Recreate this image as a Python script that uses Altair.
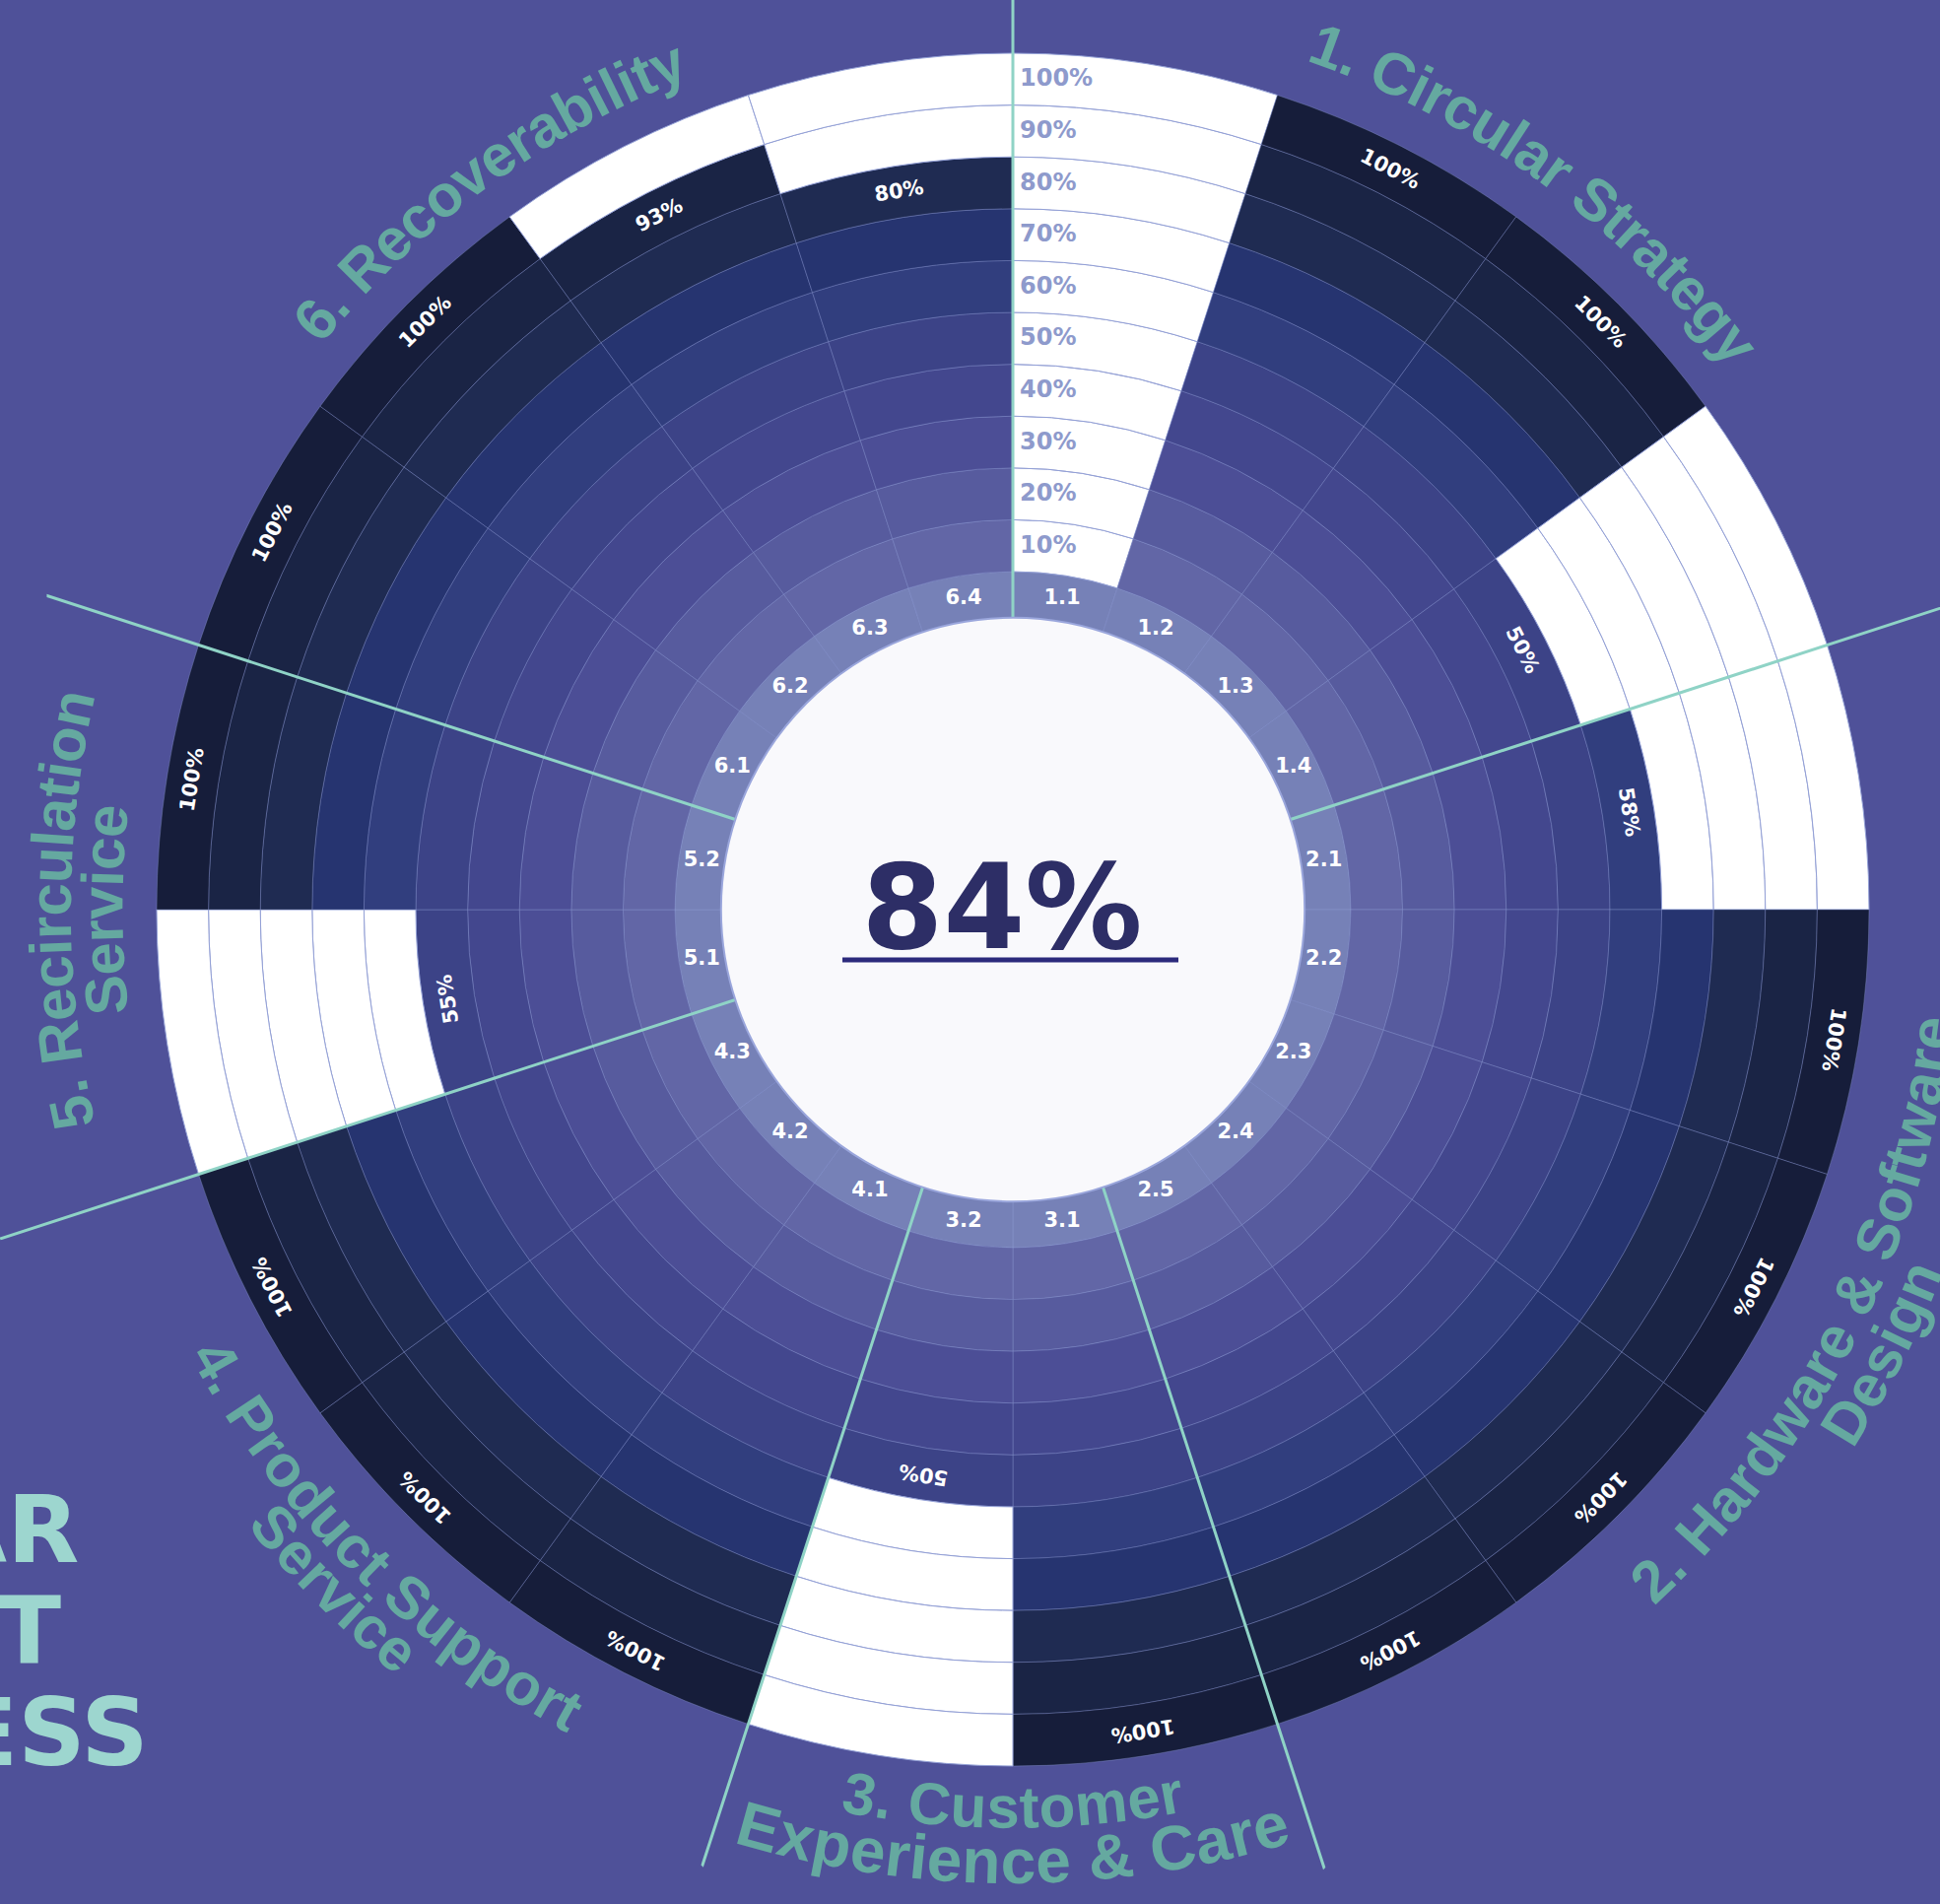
import math
import altair as alt
import pandas as pd

# ---------------- data ----------------
sector_ids = ["1.1", "1.2", "1.3", "1.4",
              "2.1", "2.2", "2.3", "2.4", "2.5",
              "3.1", "3.2",
              "4.1", "4.2", "4.3",
              "5.1", "5.2",
              "6.1", "6.2", "6.3", "6.4"]
sector_values = [0, 100, 100, 50,
                 58, 100, 100, 100, 100,
                 100, 50,
                 100, 100, 100,
                 55, 100,
                 100, 100, 93, 80]
group_titles = [["1. Circular Strategy"],
                ["2. Hardware & Software", "Design"],
                ["3. Customer", "Experience & Care"],
                ["4. Product Support", "Service"],
                ["5. Recirculation", "Service"],
                ["6. Recoverability"]]
group_sizes = [4, 5, 2, 3, 2, 4]
scale_ticks = [10, 20, 30, 40, 50, 60, 70, 80, 90, 100]
corner_words = ["CIRCULAR", "PRODUCT", "READINESS"]

# ---------------- layout / style ----------------
W, H = 1969, 1932
CX, CY = 1028, 923
R_ZERO_PX, R_FULL_PX = 343, 869          # radius of 0 % and 100 %
BAND_IN = -8.9                           # inner edge of the id band (in % units)
LINE_END = [140, 140, 129.0, 128.5, 140, 130.5]   # separator line ends (in % units)
TITLE_R = [[111.5], [114.0, 124.0], [108.5, 119.0], [112.0, 121.0], [120.0, 110.0], [110.5]]
TITLE_FS = [[60], [60, 60], [60, 64], [60, 60], [60, 60], [60]]
BG = "#4f5199"
TEAL = "#8fd3c6"
TITLE_COL = "#65a9a0"
ring_classes = ["band"] + [f"r{k}" for k in range(1, 11)] + ["empty"]
ring_colors = ["#7681b7", "#6266a6", "#575b9e", "#4c4e96", "#43478e", "#3c4387",
               "#313e7e", "#263470", "#1f2b52", "#1a2445", "#161d3a", "#ffffff"]

n = len(sector_ids)
step = 360.0 / n


def n_filled(v):
    return int(math.floor((v + 4) / 10.0))


# cells
cells = []
for i, (sid, v) in enumerate(zip(sector_ids, sector_values)):
    t0, t1 = i * step, (i + 1) * step
    cells.append(dict(sid=sid, t0=t0, t1=t1, r_in=BAND_IN, r_out=0, cls="band", filled="y"))
    nf = n_filled(v)
    for k in range(1, 11):
        f = k <= nf
        cells.append(dict(sid=sid, t0=t0, t1=t1, r_in=(k - 1) * 10, r_out=k * 10,
                          cls=f"r{k}" if f else "empty", filled="y" if f else "n"))
cells_df = pd.DataFrame(cells)

# sector id labels and value labels
ids_df = pd.DataFrame([dict(sid=s, th=(i + 0.5) * step, r=BAND_IN / 2) for i, s in enumerate(sector_ids)])
val_rows = []
for i, (s, v) in enumerate(zip(sector_ids, sector_values)):
    if v > 0:
        th = (i + 0.5) * step
        val_rows.append(dict(sid=s, th=th, r=n_filled(v) * 10 - 5, ang=th % 360, label=f"{v}%"))
vals_df = pd.DataFrame(val_rows)

ticks_df = pd.DataFrame([dict(th=0.0, r=t - 5, label=f"{t}%") for t in scale_ticks])

# separator lines between groups
bounds = []
acc = 0
for g in group_sizes:
    bounds.append(acc * step)
    acc += g
lines_df = pd.DataFrame([dict(t0=b, t1=b + 0.0001, r_in=BAND_IN, r_out=e)
                         for b, e in zip(bounds, LINE_END)])

# curved group titles, one character per row
CW = {' ': 278, '&': 722, '.': 278, '1': 556, '2': 556, '3': 556, '4': 556, '5': 556, '6': 556,
      'A': 722, 'B': 722, 'C': 722, 'D': 722, 'E': 667, 'F': 611, 'G': 778, 'H': 722, 'I': 278,
      'J': 556, 'K': 722, 'L': 611, 'M': 833, 'N': 722, 'O': 778, 'P': 667, 'Q': 778, 'R': 722,
      'S': 667, 'T': 611, 'U': 722, 'V': 667, 'W': 944, 'X': 667, 'Y': 667, 'Z': 611,
      'a': 556, 'b': 611, 'c': 556, 'd': 611, 'e': 556, 'f': 333, 'g': 611, 'h': 611, 'i': 278,
      'j': 278, 'k': 556, 'l': 278, 'm': 889, 'n': 611, 'o': 611, 'p': 611, 'q': 611, 'r': 389,
      's': 556, 't': 333, 'u': 611, 'v': 556, 'w': 778, 'x': 556, 'y': 556, 'z': 500}
chars = []
acc = 0
for gi, (lines, size) in enumerate(zip(group_titles, group_sizes)):
    centre = (acc + size / 2.0) * step
    acc += size
    top = centre <= 90 or centre >= 270
    for line, ru, fs in zip(lines, TITLE_R[gi], TITLE_FS[gi]):
        rpx = R_ZERO_PX + ru / 100.0 * (R_FULL_PX - R_ZERO_PX)
        widths = [CW.get(c, 556) / 1000.0 * fs for c in line]
        total = sum(widths)
        cum = 0.0
        for c, w in zip(line, widths):
            s = cum + w / 2.0 - total / 2.0
            d = math.degrees(s / rpx)
            if top:
                th = centre + d
                ang = th
            else:
                th = centre - d
                ang = th + 180
            cum += w
            if c != ' ':
                chars.append(dict(ch=c, th=th % 360, r=ru, ang=ang % 360, fs=fs))
chars_df = pd.DataFrame(chars)

values_df = pd.DataFrame(dict(sid=sector_ids, value=sector_values))
corner_df = pd.DataFrame([dict(t="\n".join(corner_words))])

# ---------------- scales ----------------
TH = alt.Scale(type="linear", domain=[0, 360], range=[0, 2 * math.pi], nice=False, zero=False)
RS = alt.Scale(type="linear", domain=[0, 100], range=[R_ZERO_PX, R_FULL_PX], nice=False, zero=False)
CX_V, CY_V = alt.value(CX), alt.value(CY)

cells_layer = alt.Chart(cells_df).mark_arc(stroke="#93a0d6", strokeWidth=1).encode(
    theta=alt.Theta("t0:Q", scale=TH, stack=False),
    theta2="t1:Q",
    radius=alt.Radius("r_out:Q", scale=RS),
    radius2="r_in:Q",
    fill=alt.Fill("cls:N", scale=alt.Scale(domain=ring_classes, range=ring_colors), legend=None),
    strokeOpacity=alt.StrokeOpacity("filled:N", scale=alt.Scale(domain=["y", "n"], range=[0.35, 1.0]), legend=None),
    x=CX_V, y=CY_V,
)

lines_layer = alt.Chart(lines_df).mark_arc(stroke=TEAL, strokeWidth=3, fill=TEAL).encode(
    theta=alt.Theta("t0:Q", scale=TH, stack=False),
    theta2="t1:Q",
    radius=alt.Radius("r_out:Q", scale=RS),
    radius2="r_in:Q",
    x=CX_V, y=CY_V,
)

hole_layer = alt.Chart(pd.DataFrame([dict(t0=0, t1=360, r=BAND_IN)])).mark_arc(
    fill="#f9f9fc", stroke="#9aa6dc", strokeWidth=2).encode(
    theta=alt.Theta("t0:Q", scale=TH, stack=False),
    theta2="t1:Q",
    radius=alt.Radius("r:Q", scale=RS),
    radius2=alt.value(0),
    x=CX_V, y=CY_V,
)

ids_layer = alt.Chart(ids_df).mark_text(
    font="DejaVu Sans", fontWeight="bold", fontSize=21, color="white",
    align="center", baseline="middle").encode(
    theta=alt.Theta("th:Q", scale=TH, stack=False),
    radius=alt.Radius("r:Q", scale=RS),
    text="sid:N", x=CX_V, y=CY_V,
)

vals_layer = alt.Chart(vals_df).mark_text(
    font="DejaVu Sans", fontWeight="bold", fontSize=21, color="white",
    align="center", baseline="middle").encode(
    theta=alt.Theta("th:Q", scale=TH, stack=False),
    radius=alt.Radius("r:Q", scale=RS),
    angle=alt.Angle("ang:Q", scale=None),
    text="label:N", x=CX_V, y=CY_V,
)

ticks_layer = alt.Chart(ticks_df).mark_text(
    font="DejaVu Sans", fontWeight="bold", fontSize=24, color="#8e9acc",
    align="left", baseline="middle", dx=7).encode(
    theta=alt.Theta("th:Q", scale=TH, stack=False),
    radius=alt.Radius("r:Q", scale=RS),
    text="label:N", x=CX_V, y=CY_V,
)

title_layer = alt.Chart(chars_df).mark_text(
    font="Liberation Sans", fontWeight="bold", color=TITLE_COL,
    align="center", baseline="middle").encode(
    theta=alt.Theta("th:Q", scale=TH, stack=False),
    radius=alt.Radius("r:Q", scale=RS),
    angle=alt.Angle("ang:Q", scale=None),
    size=alt.Size("fs:Q", scale=None),
    text="ch:N", x=CX_V, y=CY_V,
)

score_layer = alt.Chart(values_df).transform_aggregate(
    m="mean(value)"
).transform_calculate(
    label="format(datum.m, '.0f') + '%'"
).mark_text(
    font="DejaVu Sans", fontWeight="bold", fontSize=119, color="#2d2e66",
    align="center", baseline="alphabetic").encode(
    text="label:N", x=alt.value(1017), y=alt.value(962),
)

underline_layer = alt.Chart(pd.DataFrame([dict(a=1)])).mark_rule(
    color="#2c2a7c", strokeWidth=5).encode(
    x=alt.value(855), x2=alt.value(1196), y=alt.value(974),
)

corner_layer = alt.Chart(corner_df).mark_text(
    font="DejaVu Sans", fontWeight="bold", fontSize=95, color="#9dd6cf",
    align="left", baseline="alphabetic", lineBreak="\n", lineHeight=103).encode(
    text="t:N", x=alt.value(-452), y=alt.value(1585),
)

chart = alt.layer(
    cells_layer, lines_layer, hole_layer, ids_layer, vals_layer, ticks_layer,
    title_layer, score_layer, underline_layer, corner_layer,
).properties(
    width=W, height=H, background=BG, padding=0,
    autosize=alt.AutoSizeParams(type="none"),
).configure_view(stroke=None)

chart.save("out.html", embed_options={"renderer": "svg", "actions": False})
